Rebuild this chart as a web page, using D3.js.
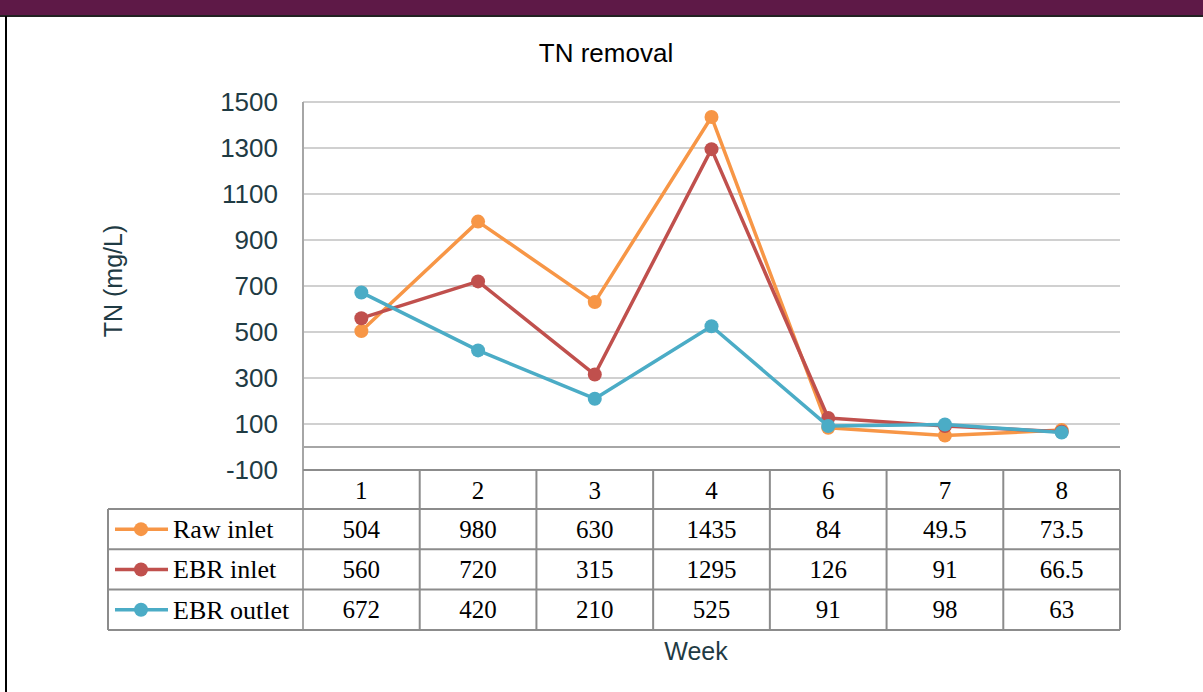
<!DOCTYPE html>
<html>
<head>
<meta charset="utf-8">
<script src="https://cdn.jsdelivr.net/npm/d3@7"></script>
<style>
  body { margin: 0; background: #fff; }
  svg { display: block; }
</style>
</head>
<body>
<svg id="chart" width="1203" height="692"></svg>
<script>
// data
var weeks = ['1', '2', '3', '4', '6', '7', '8'];
var rawInlet = [504, 980, 630, 1435, 84, 49.5, 73.5];
var ebrInlet = [560, 720, 315, 1295, 126, 91, 66.5];
var ebrOutlet = [672, 420, 210, 525, 91, 98, 63];
var seriesNames = ['Raw inlet', 'EBR inlet', 'EBR outlet'];
var seriesColors = ['#F79646', '#C0504D', '#4BACC6'];
var yTicks = [-100, 100, 300, 500, 700, 900, 1100, 1300, 1500];

var series = [rawInlet, ebrInlet, ebrOutlet].map((vals, i) => ({
    name: seriesNames[i],
    color: seriesColors[i],
    values: vals
}));

var svg = d3.select('#chart');
var axisColor = '#1f3b44';
var sans = 'Liberation Sans, Arial, sans-serif';

// frame: purple band + left border
svg.append('rect').attr('x', 0).attr('y', 0).attr('width', 1203).attr('height', 15).attr('fill', '#5E1947');
svg.append('line').attr('x1', 0).attr('x2', 1203).attr('y1', 16).attr('y2', 16)
    .attr('stroke', '#222').attr('stroke-width', 2);
svg.append('line').attr('x1', 6).attr('x2', 6).attr('y1', 16).attr('y2', 692)
    .attr('stroke', '#000').attr('stroke-width', 2);

// scales
var x = d3.scaleBand().domain(weeks).range([303, 1120]);
var y = d3.scaleLinear().domain([-100, 1500]).range([470, 102]);

// gridlines
svg.append('g').selectAll('line.grid')
    .data(yTicks)
    .enter().append('line')
        .attr('class', 'grid')
        .attr('x1', 303).attr('x2', 1120)
        .attr('y1', d => y(d)).attr('y2', d => y(d))
        .attr('stroke', '#d0d0d0').attr('stroke-width', 2);

// zero line
svg.append('line')
    .attr('x1', 303).attr('x2', 1120)
    .attr('y1', y(0)).attr('y2', y(0))
    .attr('stroke', '#a6a6a6').attr('stroke-width', 2);

// y axis line
svg.append('line')
    .attr('x1', 303).attr('x2', 303).attr('y1', y(1500)).attr('y2', 630)
    .attr('stroke', '#a6a6a6').attr('stroke-width', 2);

// y tick labels
svg.append('g').selectAll('text.ytick')
    .data(yTicks)
    .enter().append('text')
        .attr('class', 'ytick')
        .attr('x', 278)
        .attr('y', d => y(d))
        .attr('dy', '0.36em')
        .attr('text-anchor', 'end')
        .style('font-family', sans)
        .style('font-size', '26px')
        .attr('fill', axisColor)
        .text(d => d);

// title and axis labels
svg.append('text').attr('x', 606).attr('y', 62).attr('text-anchor', 'middle')
    .style('font-family', sans).style('font-size', '26px')
    .attr('fill', '#000').text('TN removal');

svg.append('text').attr('transform', 'translate(122,281) rotate(-90)').attr('text-anchor', 'middle')
    .style('font-family', sans).style('font-size', '25px')
    .attr('fill', axisColor).text('TN (mg/L)');

svg.append('text').attr('x', 696).attr('y', 660).attr('text-anchor', 'middle')
    .style('font-family', sans).style('font-size', '25px')
    .attr('fill', axisColor).text('Week');

// lines
var line = d3.line()
    .x((d, i) => x(weeks[i]) + x.bandwidth() / 2)
    .y(d => y(d));

var groups = svg.append('g').selectAll('g.series')
    .data(series)
    .enter().append('g')
        .attr('class', 'series');

groups.append('path')
    .attr('d', d => line(d.values))
    .attr('fill', 'none')
    .attr('stroke', d => d.color)
    .attr('stroke-width', 3.5)
    .attr('stroke-linejoin', 'round');

groups.selectAll('circle')
    .data(d => d.values.map((v, i) => ({ v: v, i: i, color: d.color })))
    .enter().append('circle')
        .attr('cx', d => x(weeks[d.i]) + x.bandwidth() / 2)
        .attr('cy', d => y(d.v))
        .attr('r', 7)
        .attr('fill', d => d.color);

// data table
var tableTop = 470;
var headerH = 39;
var rowH = 40.3;
var legendLeft = 108;
var tableBottom = tableTop + headerH + rowH * 3;
var borderColor = '#8c8c8c';
var serif = 'Liberation Serif, Times New Roman, serif';

var table = svg.append('g');

// horizontal table lines
var rowLines = [tableTop + headerH, tableTop + headerH + rowH, tableTop + headerH + rowH * 2, tableBottom];
table.selectAll('line.hrow')
    .data(rowLines)
    .enter().append('line')
        .attr('class', 'hrow')
        .attr('x1', legendLeft).attr('x2', 1120)
        .attr('y1', d => d).attr('y2', d => d)
        .attr('stroke', borderColor).attr('stroke-width', 2);
table.append('line')
    .attr('x1', 303).attr('x2', 1120).attr('y1', tableTop).attr('y2', tableTop)
    .attr('stroke', borderColor).attr('stroke-width', 2);

// vertical table lines
table.selectAll('line.vcol')
    .data(weeks)
    .enter().append('line')
        .attr('class', 'vcol')
        .attr('x1', d => x(d) + x.bandwidth()).attr('x2', d => x(d) + x.bandwidth())
        .attr('y1', tableTop).attr('y2', tableBottom)
        .attr('stroke', borderColor).attr('stroke-width', 2);
table.append('line')
    .attr('x1', legendLeft).attr('x2', legendLeft)
    .attr('y1', tableTop + headerH).attr('y2', tableBottom)
    .attr('stroke', borderColor).attr('stroke-width', 2);

// header
table.selectAll('text.head')
    .data(weeks)
    .enter().append('text')
        .attr('class', 'head')
        .attr('x', d => x(d) + x.bandwidth() / 2)
        .attr('y', tableTop + headerH / 2)
        .attr('dy', '0.36em')
        .attr('text-anchor', 'middle')
        .style('font-family', serif).style('font-size', '25px')
        .attr('fill', '#000')
        .text(d => d);

// rows
var rows = table.selectAll('g.row')
    .data(series)
    .enter().append('g')
        .attr('class', 'row')
        .attr('transform', (d, i) => 'translate(0,' + (tableTop + headerH + rowH * i + rowH / 2) + ')');

rows.append('line')
    .attr('x1', 115).attr('x2', 168).attr('y1', 0).attr('y2', 0)
    .attr('stroke', d => d.color).attr('stroke-width', 3.5);
rows.append('circle')
    .attr('cx', 141).attr('cy', 0).attr('r', 7)
    .attr('fill', d => d.color);
rows.append('text')
    .attr('x', 173).attr('dy', '0.34em')
    .style('font-family', serif).style('font-size', '26px')
    .attr('fill', '#000')
    .text(d => d.name);

rows.selectAll('text.val')
    .data(d => d.values)
    .enter().append('text')
        .attr('class', 'val')
        .attr('x', (d, i) => x(weeks[i]) + x.bandwidth() / 2)
        .attr('dy', '0.34em')
        .attr('text-anchor', 'middle')
        .style('font-family', serif).style('font-size', '25px')
        .attr('fill', '#000')
        .text(d => d);
</script>
</body>
</html>
